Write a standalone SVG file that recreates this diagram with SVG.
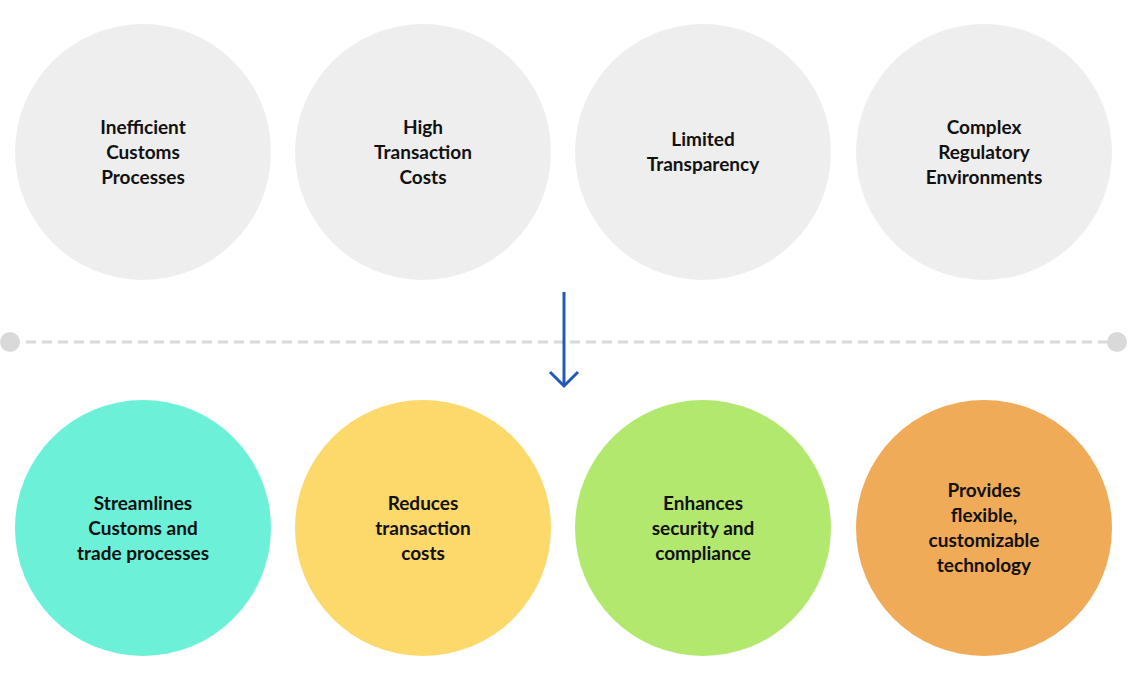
<svg xmlns="http://www.w3.org/2000/svg" width="1128" height="680" viewBox="0 0 1128 680">
<style>
text{font-family:"Lato","Noto Sans",sans-serif;font-weight:700;font-size:19px;fill:#111;text-anchor:middle}
.g{fill:#eeeeee}
</style>
<rect width="1128" height="680" fill="#fff"/>
<g id="connectors">
<line x1="10" y1="342" x2="1117" y2="342" stroke="#d9d9d9" stroke-width="3" stroke-dasharray="10 6"/>
<circle cx="10" cy="342" r="10" fill="#d9d9d9"/>
<circle cx="1117" cy="342" r="10" fill="#d9d9d9"/>
<line x1="564" y1="292" x2="564" y2="385" stroke="#2458b8" stroke-width="3"/>
<polyline points="550,372 564,386 578,372" fill="none" stroke="#2458b8" stroke-width="3"/>
</g>
<g id="n1"><circle class="g" cx="143" cy="152" r="128"/><text x="143" y="134">Inefficient</text><text x="143" y="159">Customs</text><text x="143" y="184">Processes</text></g>
<g id="n2"><circle class="g" cx="423" cy="152" r="128"/><text x="423" y="134">High</text><text x="423" y="159">Transaction</text><text x="423" y="184">Costs</text></g>
<g id="n3"><circle class="g" cx="703" cy="152" r="128"/><text x="703" y="146">Limited</text><text x="703" y="171">Transparency</text></g>
<g id="n4"><circle class="g" cx="984" cy="152" r="128"/><text x="984" y="134">Complex</text><text x="984" y="159">Regulatory</text><text x="984" y="184">Environments</text></g>
<g id="n5"><circle fill="#6df0d8" cx="143" cy="528" r="128"/><text x="143" y="510">Streamlines</text><text x="143" y="535">Customs and</text><text x="143" y="560">trade processes</text></g>
<g id="n6"><circle fill="#fdd86a" cx="423" cy="528" r="128"/><text x="423" y="510">Reduces</text><text x="423" y="535">transaction</text><text x="423" y="560">costs</text></g>
<g id="n7"><circle fill="#b3e86e" cx="703" cy="528" r="128"/><text x="703" y="510">Enhances</text><text x="703" y="535">security and</text><text x="703" y="560">compliance</text></g>
<g id="n8"><circle fill="#f0ab58" cx="984" cy="528" r="128"/><text x="984" y="497">Provides</text><text x="984" y="522">flexible,</text><text x="984" y="547">customizable</text><text x="984" y="572">technology</text></g>
</svg>
